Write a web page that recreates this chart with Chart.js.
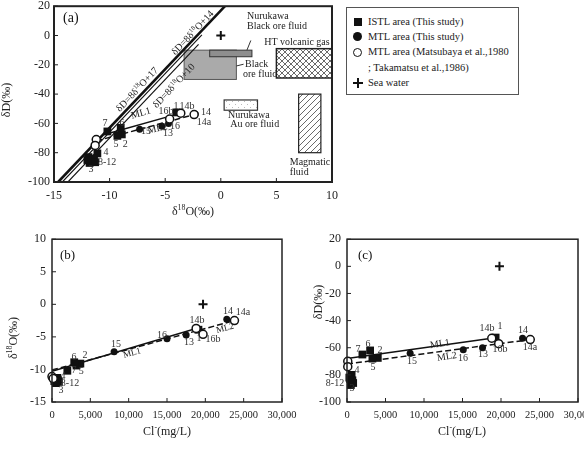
<!DOCTYPE html>
<html>
<head>
<meta charset="utf-8">
<script src="https://cdn.jsdelivr.net/npm/chart.js@4.4.1/dist/chart.umd.min.js"></script>
<style>
  html, body { margin: 0; padding: 0; background: #fff; width: 584px; height: 452px; overflow: hidden; }
  canvas { position: absolute; }
  #legend { position: absolute; left: 346px; top: 7px; width: 173px; height: 88px; box-sizing: border-box;
            border: 1.5px solid #555; font: 10.5px "Liberation Serif", serif; color: #222; }
  #legend span { position: absolute; left: 21px; line-height: 14px; white-space: nowrap; }
  #legend i { position: absolute; display: block; }
  .sq { width: 8px; height: 8px; background: #111; left: 7px; }
  .dot { width: 9px; height: 9px; border-radius: 50%; background: #111; left: 6px; }
  .ring { width: 9px; height: 9px; border-radius: 50%; border: 1.5px solid #111; box-sizing: border-box; left: 6px; }
  .plus1 { width: 10px; height: 1.6px; background: #111; left: 6px; }
  .plus2 { width: 1.6px; height: 10px; background: #111; left: 10.2px; }
</style>
</head>
<body>
<canvas id="chA" width="345" height="232" style="left:0;top:-5px"></canvas>
<canvas id="chB" width="310" height="221" style="left:0;top:226px"></canvas>
<canvas id="chC" width="300" height="221" style="left:300px;top:226px"></canvas>

<div id="legend">
  <i class="sq" style="top:10px"></i><span style="top:7px">ISTL area (This study)</span>
  <i class="dot" style="top:24px"></i><span style="top:21.5px">MTL area (This study)</span>
  <i class="ring" style="top:39.5px"></i><span style="top:37px">MTL area (Matsubaya et al.,1980</span>
  <span style="top:52.5px">; Takamatsu et al.,1986)</span>
  <i class="plus1" style="top:74.2px"></i><i class="plus2" style="top:70px"></i><span style="top:68px">Sea water</span>
</div>

<script>
// ── データ ────────────────────────────────────────────────────────────────
// (a) δ18O – δD
const istlA = [[-4.0,-52.5],[-8.9,-67.5],[-11.6,-86],[-11.1,-80.5],[-9.3,-68.5],[-9.0,-63],[-10.2,-65.5],
               [-11.9,-83],[-11.4,-84],[-11.8,-87],[-12.0,-85],[-11.3,-86.5]];
const mtlA  = [[-7.3,-64],[-5.3,-62],[-4.7,-60],[-2.3,-53.5]];
const litA  = [[-2.4,-54],[-3.6,-53],[-4.6,-57],[-11.2,-71],[-11.3,-75]];
const seaA  = [[0,0]];
const ml1A  = [[-10.2,-67],[-3.6,-53]];
const ml2A  = [[-11.2,-72],[-2.4,-54]];
const mwl17 = [[-14.625,-100],[0.375,20]];
const mwl14 = [[-14.25,-100],[-1.7,0.4]];
const mwl10 = [[-13.75,-100],[-2.0,-6]];
// 流体領域 [δ18O範囲, δD範囲]
const blackOre      = [[-3.3,1.4],[-10,-30]];
const nurukawaBlack = [[-1.0,2.8],[-10,-14.5]];
const htGas         = [[5,10],[-9,-29]];
const nurukawaAu    = [[0.3,3.3],[-44,-51]];
const magmatic      = [[7,9],[-40,-80]];

// (b) Cl – δ18O
const istlB = [[19100,-3.9],[3700,-9.1],[600,-11.9],[700,-11.3],[3200,-9.4],[2900,-8.9],[2000,-10.2],
               [400,-11.5],[800,-11.7],[500,-12.1],[900,-11.9],[300,-11.8]];
const mtlB  = [[8100,-7.3],[15000,-5.3],[17500,-4.7],[22800,-2.3]];
const litB  = [[23800,-2.5],[18800,-3.7],[19700,-4.6],[0,-11.1],[150,-11.4]];
const seaB  = [[19700,0]];
const ml1B  = [[0,-10.3],[18800,-3.7]];
const ml2B  = [[0,-10.1],[23800,-2.5]];

// (c) Cl – δD
const istlC = [[19300,-52.5],[4000,-67.5],[500,-85],[600,-80],[3300,-68],[3000,-62],[2000,-65],
               [300,-82],[700,-84],[500,-87.5],[800,-86],[400,-83]];
const mtlC  = [[8200,-64],[15100,-61.5],[17600,-60],[22800,-53]];
const litC  = [[23800,-54],[18800,-53],[19700,-57],[100,-70],[100,-74]];
const seaC  = [[19800,0]];
const ml1C  = [[0,-68],[18800,-53]];
const ml2C  = [[0,-72],[23800,-54]];

// 試料番号ラベル [文字, x, y]
const labelsA = [['7',-10.41,-60],['6',-8.88,-60],['5',-9.42,-74.2],['2',-8.6,-74.2],['15',-6.73,-65.4],
  ['13',-4.75,-66.8],['16',-4.12,-62],['16b',-4.93,-51.9],['1',-4.03,-48.5],['14b',-3.04,-48.5],
  ['14',-1.33,-52.5],['14a',-1.51,-59.3],['4',-10.32,-79.9],['8-12',-10.23,-86.4],['3',-11.67,-91.4]];
const labelsB = [['14',22956,-1.14],['14a',24913,-1.3],['14b',18913,-2.5],['1',19173,-5.2],['16b',21000,-5.36],
  ['16',14348,-4.76],['13',17870,-5.8],['15',8348,-6.2],['6',2870,-8.2],['2',4304,-7.9],['7',2870,-10.2],
  ['5',3800,-10.3],['4',1435,-11.1],['8-12',2348,-12.1],['3',1174,-13.2]];
const labelsC = [['14b',18182,-45.8],['1',19870,-44.3],['14',22857,-47.2],['14a',23766,-59.5],['16b',19870,-61],
  ['15',8442,-70.4],['16',15065,-67.5],['13',17662,-64.6],['7',1429,-61],['6',2727,-57.3],['2',4286,-61.7],
  ['5',3377,-74.7],['4',1299,-76.9],['8-12',-1558,-86.3],['3',649,-89.9]];

// ── 描画ヘルパー ───────────────────────────────────────────────────────────
const SERIF = '"Liberation Serif", "DejaVu Serif", serif';
const pts = a => a.map(([x, y]) => ({ x, y }));

function pattern(kind) {
  const c = document.createElement('canvas'); c.width = c.height = 6;
  const g = c.getContext('2d');
  g.fillStyle = '#fff'; g.fillRect(0, 0, 6, 6);
  g.strokeStyle = '#444'; g.lineWidth = 0.8;
  if (kind === 'diag' || kind === 'cross') {
    g.beginPath(); g.moveTo(0, 6); g.lineTo(6, 0); g.moveTo(-1, 1); g.lineTo(1, -1); g.moveTo(5, 7); g.lineTo(7, 5); g.stroke();
  }
  if (kind === 'cross') {
    g.beginPath(); g.moveTo(0, 0); g.lineTo(6, 6); g.moveTo(5, -1); g.lineTo(7, 1); g.moveTo(-1, 5); g.lineTo(1, 7); g.stroke();
  }
  if (kind === 'dots') {
    g.fillStyle = '#bbb'; g.fillRect(1, 1, 1, 1); g.fillRect(4, 4, 1, 1);
  }
  return document.createElement('canvas').getContext('2d').createPattern(c, 'repeat');
}

// "δ^18O" → 上付き対応
function drawRich(ctx, str, x, y, size, align, rot, color) {
  const parts = str.split(/\^(\d+|-)/);
  ctx.save();
  ctx.translate(x, y); ctx.rotate((rot || 0) * Math.PI / 180);
  ctx.fillStyle = color || '#222'; ctx.textBaseline = 'middle'; ctx.textAlign = 'left';
  let w = 0;
  parts.forEach((p, i) => { ctx.font = (i % 2 ? size * 0.65 : size) + 'px ' + SERIF; w += ctx.measureText(p).width; });
  let cx = align === 'center' ? -w / 2 : 0;
  parts.forEach((p, i) => {
    const sup = i % 2 === 1;
    ctx.font = (sup ? size * 0.65 : size) + 'px ' + SERIF;
    ctx.fillText(p, cx, sup ? -size * 0.3 : 0);
    cx += ctx.measureText(p).width;
  });
  ctx.restore();
}

const decorCfg = {
  chA: {
    ox: 0, oy: -5, frame: 2,
    rects: [
      { r: blackOre, fill: '#aaaaaa', stroke: '#555', lw: 1 },
      { r: nurukawaBlack, fill: '#8e8e8e', stroke: '#333', lw: 1 },
      { r: htGas, fill: pattern('cross'), stroke: '#222', lw: 1.5 },
      { r: nurukawaAu, fill: pattern('dots'), stroke: '#333', lw: 1.2 },
      { r: magmatic, fill: pattern('diag'), stroke: '#222', lw: 1.2 }
    ],
    leaders: [[[2.7,-3.4],[2.35,-10]], [[1.4,-20.8],[2.05,-19.6]]],
    texts: [
      ['Nurukawa', 2.36, 13.2, 10, 'left', 0], ['Black ore fluid', 2.36, 6.4, 10, 'left', 0],
      ['HT volcanic gas', 3.9, -4.4, 10, 'left', 0],
      ['Black', 2.18, -20, 10, 'left', 0], ['ore fluid', 2.0, -26.8, 10, 'left', 0],
      ['Nurukawa', 0.65, -54.6, 10, 'left', 0], ['Au ore fluid', 0.85, -60.7, 10, 'left', 0],
      ['Magmatic', 6.2, -86.4, 10, 'left', 0], ['fluid', 6.2, -93.2, 10, 'left', 0],
      ['δD=8δ^18O+17', -7.5, -37, 10, 'center', -47],
      ['δD=8δ^18O+14', -2.5, 1.7, 10, 'center', -47],
      ['δD=8δ^18O+10', -4.2, -34.5, 10, 'center', -47],
      ['ML1', -7.18, -53.2, 10, 'center', -16], ['ML2', -5.69, -63.7, 10, 'center', -12]
    ],
    labels: labelsA,
    panel: ['(a)', 9, 12, 14],
    titles: [['δ^18O(‰)', 193, 212, 12, 0], ['δD(‰)', 7, 100, 12, -90]]
  },
  chB: {
    ox: 0, oy: 226, frame: 1.5, rects: [], leaders: [],
    texts: [['ML1', 10435, -7.5, 9, 'center', -15], ['ML2', 22565, -3.7, 9, 'center', -15]],
    labels: labelsB,
    panel: ['(b)', 8, 16, 13],
    titles: [['Cl^-(mg/L)', 167, 432, 12, 0], ['δ^18O(‰)', 14, 338, 12, -90]]
  },
  chC: {
    ox: 300, oy: 226, frame: 1.5, rects: [], leaders: [],
    texts: [['ML1', 12078, -57.3, 10, 'center', -9], ['ML2', 12987, -66.7, 10, 'center', -9]],
    labels: labelsC,
    panel: ['(c)', 11, 16, 13],
    titles: [['Cl^-(mg/L)', 462, 432, 12, 0], ['δD(‰)', 319, 302, 12, -90]]
  }
};

const decor = {
  id: 'decor',
  beforeDatasetsDraw(chart) {
    const cfg = decorCfg[chart.canvas.id];
    const { ctx, chartArea: a, scales: { x, y } } = chart;
    ctx.save();
    ctx.beginPath(); ctx.rect(a.left, a.top, a.width, a.height); ctx.clip();
    cfg.rects.forEach(({ r, fill, stroke, lw }) => {
      const x0 = x.getPixelForValue(r[0][0]), x1 = x.getPixelForValue(r[0][1]);
      const y0 = y.getPixelForValue(r[1][0]), y1 = y.getPixelForValue(r[1][1]);
      ctx.fillStyle = fill; ctx.fillRect(x0, y0, x1 - x0, y1 - y0);
      ctx.strokeStyle = stroke; ctx.lineWidth = lw; ctx.strokeRect(x0, y0, x1 - x0, y1 - y0);
    });
    ctx.restore();
  },
  afterDatasetsDraw(chart) {
    const cfg = decorCfg[chart.canvas.id];
    const { ctx, chartArea: a, scales: { x, y } } = chart;
    ctx.save();
    // 枠と内向き目盛
    ctx.strokeStyle = '#222'; ctx.lineWidth = cfg.frame;
    ctx.strokeRect(a.left, a.top, a.width, a.height);
    ctx.lineWidth = 1; ctx.beginPath();
    x.ticks.forEach(t => { const p = x.getPixelForValue(t.value); ctx.moveTo(p, a.bottom); ctx.lineTo(p, a.bottom - 4); });
    y.ticks.forEach(t => { const p = y.getPixelForValue(t.value); ctx.moveTo(a.left, p); ctx.lineTo(a.left + 4, p); });
    ctx.stroke();
    // 引出線
    ctx.lineWidth = 1; ctx.strokeStyle = '#333';
    cfg.leaders.forEach(([p, q]) => {
      ctx.beginPath();
      ctx.moveTo(x.getPixelForValue(p[0]), y.getPixelForValue(p[1]));
      ctx.lineTo(x.getPixelForValue(q[0]), y.getPixelForValue(q[1]));
      ctx.stroke();
    });
    cfg.texts.forEach(([t, vx, vy, size, align, rot]) =>
      drawRich(ctx, t, x.getPixelForValue(vx), y.getPixelForValue(vy), size, align, rot, '#222'));
    cfg.labels.forEach(([t, vx, vy]) =>
      drawRich(ctx, t, x.getPixelForValue(vx), y.getPixelForValue(vy), 10, 'center', 0, '#333'));
    const [pt, dx, dy, ps] = cfg.panel;
    drawRich(ctx, pt, a.left + dx, a.top + dy, ps, 'left', 0, '#111');
    cfg.titles.forEach(([t, px, py, size, rot]) =>
      drawRich(ctx, t, px - cfg.ox, py - cfg.oy, size, 'center', rot, '#222'));
    ctx.restore();
  }
};

function datasets(istl, mtl, lit, sea, ml1, ml2, extra) {
  return [
    { data: pts(lit), pointStyle: 'circle', pointRadius: 4, backgroundColor: '#fff', borderColor: '#111', borderWidth: 1.5, clip: false },
    { data: pts(mtl), pointStyle: 'circle', pointRadius: 3.5, backgroundColor: '#111', borderWidth: 0, clip: false },
    { data: pts(istl), pointStyle: 'rect', pointRadius: 5.5, backgroundColor: '#111', borderWidth: 0, clip: false },
    { data: pts(sea), pointStyle: 'cross', pointRadius: 4.5, borderColor: '#111', borderWidth: 2, clip: false },
    { data: pts(ml1), showLine: true, borderColor: '#111', borderWidth: 1.5, pointRadius: 0 },
    { data: pts(ml2), showLine: true, borderColor: '#111', borderWidth: 1.5, borderDash: [6, 3], pointRadius: 0 },
    ...(extra || [])
  ];
}

function makeChart(id, ds, xs, ys, layout) {
  return new Chart(document.getElementById(id), {
    type: 'scatter',
    data: { datasets: ds },
    plugins: [decor],
    options: {
      responsive: false, animation: false, events: [],
      layout: { padding: layout.pad },
      plugins: { legend: { display: false }, tooltip: { enabled: false } },
      scales: {
        x: {
          type: 'linear', min: xs[0], max: xs[1],
          afterFit: s => { s.height = 45; },
          grid: { display: false, drawTicks: false }, border: { display: false },
          ticks: { stepSize: xs[2], autoSkip: false, maxRotation: 0, padding: 7, color: '#222',
                   font: { family: SERIF, size: layout.xFont } }
        },
        y: {
          type: 'linear', min: ys[0], max: ys[1],
          afterFit: s => { s.width = layout.yWidth; },
          grid: { display: false, drawTicks: false }, border: { display: false },
          ticks: { stepSize: ys[2], autoSkip: false, padding: layout.yPad, color: '#222',
                   font: { family: SERIF, size: 12 } }
        }
      }
    }
  });
}

const mwlSets = [
  { data: pts(mwl17), showLine: true, borderColor: '#111', borderWidth: 2.6, pointRadius: 0 },
  { data: pts(mwl14), showLine: true, borderColor: '#111', borderWidth: 1.1, pointRadius: 0 },
  { data: pts(mwl10), showLine: true, borderColor: '#111', borderWidth: 1.1, pointRadius: 0 }
];

makeChart('chA', datasets(istlA, mtlA, litA, seaA, ml1A, ml2A, mwlSets), [-15, 10, 5], [-100, 20, 20],
  { pad: { left: 0, top: 10, right: 13, bottom: 0 }, yWidth: 54, yPad: 4, xFont: 12 });
makeChart('chB', datasets(istlB, mtlB, litB, seaB, ml1B, ml2B), [0, 30000, 5000], [-15, 10, 5],
  { pad: { left: 0, top: 10, right: 28, bottom: 0 }, yWidth: 52, yPad: 6, xFont: 10.5 });
makeChart('chC', datasets(istlC, mtlC, litC, seaC, ml1C, ml2C), [0, 30000, 5000], [-100, 20, 20],
  { pad: { left: 0, top: 10, right: 22, bottom: 0 }, yWidth: 47, yPad: 6, xFont: 10.5 });
</script>
</body>
</html>
